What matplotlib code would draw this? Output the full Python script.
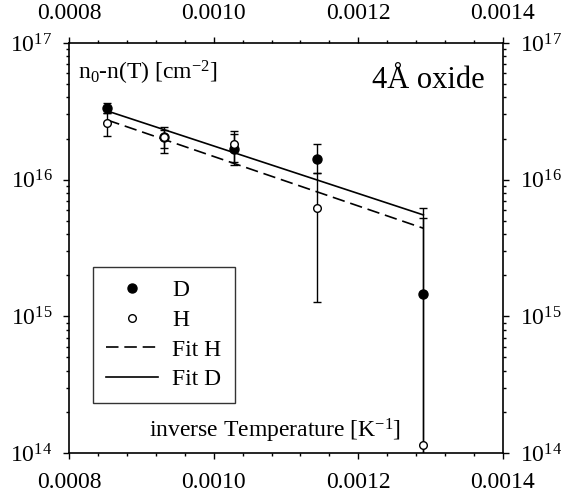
import matplotlib
matplotlib.use('Agg')
import matplotlib.pyplot as plt
from matplotlib.ticker import MultipleLocator, FormatStrFormatter, LogLocator, LogFormatterMathtext, NullFormatter

plt.rcParams['font.family'] = 'Liberation Serif'
plt.rcParams['mathtext.fontset'] = 'custom'
plt.rcParams['mathtext.rm'] = 'Liberation Serif'
plt.rcParams['mathtext.it'] = 'Liberation Serif:italic'
plt.rcParams['mathtext.bf'] = 'Liberation Serif:bold'

# inverse temperature [1/K]
inv_T = [0.000853, 0.000932, 0.001028, 0.001143, 0.001290]

# D data and error bar limits [cm^-2]
n_D = [3.33e16, 2.04e16, 1.68e16, 1.42e16, 1.45e15]
n_D_lo = [3.05e16, 1.70e16, 1.28e16, 1.11e16, 1e13]
n_D_hi = [3.62e16, 2.42e16, 2.16e16, 1.82e16, 6.2e15]

# H data and error bar limits
n_H = [2.59e16, 2.06e16, 1.82e16, 6.2e15, 1.15e14]
n_H_lo = [2.09e16, 1.58e16, 1.35e16, 1.27e15, 1e13]
n_H_hi = [3.10e16, 2.31e16, 2.28e16, 1.11e16, 5.2e15]

# fit lines (end points)
fit_x = [inv_T[0], inv_T[-1]]
fit_D = [3.18e16, 5.52e15]
fit_H = [2.73e16, 4.41e15]

fig = plt.figure(figsize=(5.68, 4.97), dpi=100)
ax = fig.add_axes([0.1215, 0.0885, 0.764, 0.825])
ax.set_yscale('log')

# --- error bars ---
errD = [[v - lo for v, lo in zip(n_D, n_D_lo)], [hi - v for v, hi in zip(n_D, n_D_hi)]]
errH = [[v - lo for v, lo in zip(n_H, n_H_lo)], [hi - v for v, hi in zip(n_H, n_H_hi)]]
ax.errorbar(inv_T, n_D, yerr=errD, fmt='none', ecolor='black', elinewidth=1, capsize=3, capthick=1, zorder=2)
ax.errorbar(inv_T, n_H, yerr=errH, fmt='none', ecolor='black', elinewidth=1, capsize=3, capthick=1, zorder=2)

# --- markers ---
ax.plot(inv_T, n_D, 'o', color='black', ms=6.5, label='D', zorder=4)
ax.plot(inv_T, n_H, 'o', mfc='white', mec='black', mew=1, ms=5.5, label='H', zorder=4)

# --- fits ---
ax.plot(fit_x, fit_H, color='black', lw=1.2, dashes=(7.5, 3.5), label='Fit H', zorder=3)
ax.plot(fit_x, fit_D, color='black', lw=1.2, label='Fit D', zorder=3)

ax.set_xlim(0.0008, 0.0014)
ax.set_ylim(1e14, 1e17)

ax.xaxis.set_major_locator(MultipleLocator(0.0002))
ax.xaxis.set_minor_locator(MultipleLocator(0.00004))
ax.xaxis.set_major_formatter(FormatStrFormatter('%.4f'))
ax.yaxis.set_major_locator(LogLocator(base=10, numticks=10))
ax.yaxis.set_minor_locator(LogLocator(base=10, subs=range(2, 10), numticks=10))
ax.yaxis.set_major_formatter(LogFormatterMathtext())
ax.yaxis.set_minor_formatter(NullFormatter())

ax.tick_params(which='both', direction='out', top=True, right=True,
               labeltop=True, labelright=True, labelsize=17, width=1)
ax.tick_params(which='major', length=4)
ax.tick_params(which='minor', length=2.5)
ax.tick_params(axis='x', which='major', pad=10)
ax.tick_params(axis='y', which='major', pad=8)

for sp in ax.spines.values():
    sp.set_linewidth(1.2)

# --- texts ---
ax.text(0.021, 0.91, r'n$_0$-n(T) [cm$^{-2}$]', transform=ax.transAxes,
        fontsize=17, ha='left', va='baseline')
ax.text(0.698, 0.89, '4Å oxide', transform=ax.transAxes,
        fontsize=22, ha='left', va='baseline')
ax.text(0.475, 0.037, r'inverse Temperature [K$^{-1}$]', transform=ax.transAxes,
        fontsize=17, ha='center', va='baseline')

# --- legend ---
leg = ax.legend(loc='lower left', bbox_to_anchor=(0.056, 0.121), borderaxespad=0,
                fontsize=17, handlelength=2.2, handletextpad=0.6, labelspacing=0.35,
                borderpad=0.55, fancybox=False, frameon=True, numpoints=1)
leg.get_frame().set_edgecolor('black')
leg.get_frame().set_linewidth(1)

fig.savefig('out.png', dpi=100)
